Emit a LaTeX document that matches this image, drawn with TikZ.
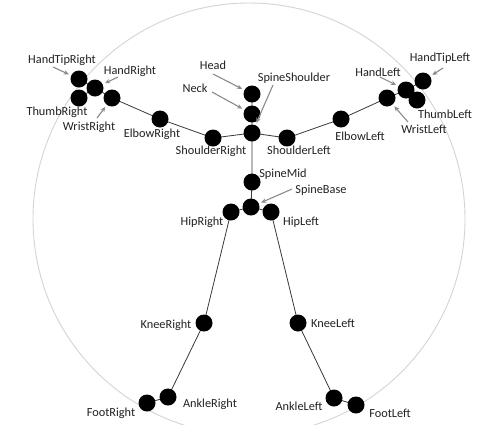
\documentclass[tikz,border=0pt]{standalone}
\usepackage{fontspec}
\setmainfont{Carlito}
\usetikzlibrary{arrows.meta}
\definecolor{ringgray}{HTML}{D4D4D4}
\definecolor{bonegray}{HTML}{3A3A3A}
\definecolor{arrgray}{HTML}{8A8A8A}
\definecolor{txtgray}{HTML}{222222}
\tikzset{
  joint/.style={circle,fill=black,draw=none,minimum size=17pt,inner sep=0pt},
  lbl/.style={font=\fontsize{12.3}{14}\selectfont,text=txtgray,inner sep=0pt,anchor=center},
  bone/.style={draw=bonegray,line width=0.8pt},
  arr/.style={draw=arrgray,line width=1.1pt,-{Stealth[length=5pt,width=4.5pt]},shorten >=2.5pt},
  ring/.style={draw=ringgray,line width=0.9pt}
}
\begin{document}
\begin{tikzpicture}[x=1pt,y=-1pt]
\useasboundingbox (0,0) rectangle (481,424);
\fill[white] (0,0) rectangle (481,424);
\begin{scope}
\clip (0,0) rectangle (481,424);
\draw[ring] (249,219) circle (216);
\end{scope}
% joints
\coordinate (pHandTipRight) at (79,79);
\coordinate (pHandRight) at (95,88);
\coordinate (pThumbRight) at (79,98);
\coordinate (pWristRight) at (112,98);
\coordinate (pElbowRight) at (160,119);
\coordinate (pShoulderRight) at (213,138);
\coordinate (pHead) at (252,94);
\coordinate (pNeck) at (252,114);
\coordinate (pSpineShoulder) at (252,133);
\coordinate (pShoulderLeft) at (287,138);
\coordinate (pElbowLeft) at (341,119);
\coordinate (pWristLeft) at (387,98);
\coordinate (pHandLeft) at (406,90);
\coordinate (pHandTipLeft) at (423,81);
\coordinate (pThumbLeft) at (417,100);
\coordinate (pSpineMid) at (252,182);
\coordinate (pSpineBase) at (251,207);
\coordinate (pHipRight) at (231,212);
\coordinate (pHipLeft) at (271,212);
\coordinate (pKneeRight) at (204,323);
\coordinate (pKneeLeft) at (298,323);
\coordinate (pAnkleRight) at (168,397);
\coordinate (pFootRight) at (147,403);
\coordinate (pAnkleLeft) at (334,398);
\coordinate (pFootLeft) at (356,405);
% bones
\draw[bone] (pHead) -- (pNeck) -- (pSpineShoulder) -- (pSpineMid) -- (pSpineBase);
\draw[bone] (pSpineShoulder) -- (pShoulderRight) -- (pElbowRight) -- (pWristRight) -- (pHandRight) -- (pHandTipRight);
\draw[bone] (pHandRight) -- (pThumbRight);
\draw[bone] (pSpineShoulder) -- (pShoulderLeft) -- (pElbowLeft) -- (pWristLeft) -- (pHandLeft) -- (pHandTipLeft);
\draw[bone] (pHandLeft) -- (pThumbLeft);
\draw[bone] (pSpineBase) -- (pHipRight) -- (pKneeRight) -- (pAnkleRight) -- (pFootRight);
\draw[bone] (pSpineBase) -- (pHipLeft) -- (pKneeLeft) -- (pAnkleLeft) -- (pFootLeft);
% joint discs
\foreach \j in {HandTipRight,HandRight,ThumbRight,WristRight,ElbowRight,ShoulderRight,Head,Neck,SpineShoulder,ShoulderLeft,ElbowLeft,WristLeft,HandLeft,HandTipLeft,ThumbLeft,SpineMid,SpineBase,HipRight,HipLeft,KneeRight,KneeLeft,AnkleRight,FootRight,AnkleLeft,FootLeft}
  \node[joint] (\j) at (p\j) {};
% labels
\node[lbl] (tHandTipRight) at (62,60) {HandTipRight};
\node[lbl] (tHandRight) at (130,71) {HandRight};
\node[lbl] (tThumbRight) at (57,112) {ThumbRight};
\node[lbl] (tWristRight) at (89,127) {WristRight};
\node[lbl] (tElbowRight) at (152,134) {ElbowRight};
\node[lbl] (tShoulderRight) at (211,151) {ShoulderRight};
\node[lbl] (tHead) at (213,65) {Head};
\node[lbl] (tNeck) at (195,88) {Neck};
\node[lbl] (tSpineShoulder) at (294,78) {SpineShoulder};
\node[lbl] (tShoulderLeft) at (299,150) {ShoulderLeft};
\node[lbl] (tElbowLeft) at (360,136) {ElbowLeft};
\node[lbl] (tHandLeft) at (378,72) {HandLeft};
\node[lbl] (tHandTipLeft) at (440,58) {HandTipLeft};
\node[lbl] (tThumbLeft) at (445,114) {ThumbLeft};
\node[lbl] (tWristLeft) at (424,129) {WristLeft};
\node[lbl] (tSpineMid) at (283,174) {SpineMid};
\node[lbl] (tSpineBase) at (321,190) {SpineBase};
\node[lbl] (tHipRight) at (202,222) {HipRight};
\node[lbl] (tHipLeft) at (301,222) {HipLeft};
\node[lbl] (tKneeRight) at (166,325) {KneeRight};
\node[lbl] (tKneeLeft) at (333,323) {KneeLeft};
\node[lbl] (tAnkleRight) at (210,404) {AnkleRight};
\node[lbl] (tFootRight) at (111,413) {FootRight};
\node[lbl] (tAnkleLeft) at (299,406) {AnkleLeft};
\node[lbl] (tFootLeft) at (390,413) {FootLeft};
% arrow tails
\coordinate (aHandTipRight) at (53,67);
\coordinate (aHandRight) at (118,77);
\coordinate (aWristRight) at (97,118);
\coordinate (aHead) at (213,74);
\coordinate (aNeck) at (212,92);
\coordinate (aSpineShoulder) at (273,85);
\coordinate (aSpineBase) at (292,189);
\coordinate (aHandLeft) at (380,77);
\coordinate (aHandTipLeft) at (443,68);
\coordinate (aWristLeft) at (408,122);
\foreach \j in {HandTipRight,HandRight,WristRight,Head,Neck,SpineShoulder,SpineBase,HandLeft,HandTipLeft,WristLeft}
  \draw[arr] (a\j) -- (\j);
\end{tikzpicture}
\end{document}
